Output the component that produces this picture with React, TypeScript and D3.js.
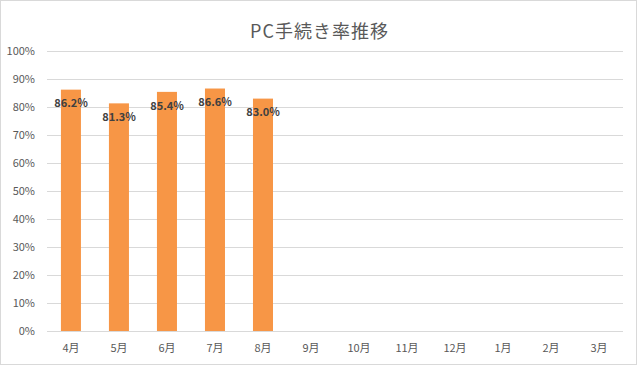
import React from 'react';
import * as d3 from 'd3';

const months = ['4月', '5月', '6月', '7月', '8月', '9月', '10月', '11月', '12月', '1月', '2月', '3月'];
const rates = [86.2, 81.3, 85.4, 86.6, 83.0];
const yTicks = [0, 10, 20, 30, 40, 50, 60, 70, 80, 90, 100];

const W = 637;
const H = 365;
const margin = { top: 51, right: 14, bottom: 34, left: 47 };

export default function App() {
  const width = W - margin.left - margin.right;
  const height = H - margin.top - margin.bottom;

  const x = d3.scaleBand<string>().domain(months).range([0, width]).paddingInner(0.583).paddingOuter(0.29);
  const xc = d3.scaleBand<string>().domain(months).range([0, width]);
  const y = d3.scaleLinear().domain([0, 100]).range([height, 0]);

  const font = '"Noto Sans CJK JP", "Open Sans", sans-serif';

  return (
    <svg width={W} height={H} style={{ position: 'absolute', left: 0, top: 0, background: '#fff' }}>
      <rect x={0.5} y={0.5} width={W - 1} height={H - 1} fill="#fff" stroke="#d9d9d9" />
      <text x={W / 2 + 1} y={38} textAnchor="middle" fontSize={18} letterSpacing={1} fill="#595959" fontFamily={font}>
        PC手続き率推移
      </text>
      <g transform={`translate(${margin.left},${margin.top})`}>
        {yTicks.map(t => (
          <g key={t}>
            <line x1={0} x2={width} y1={Math.round(y(t)) + 0.5} y2={Math.round(y(t)) + 0.5} stroke="#d9d9d9" />
            <text x={-12} y={y(t)} dy="0.35em" textAnchor="end" fontSize={11} fill="#595959" fontFamily={font}>
              {t}%
            </text>
          </g>
        ))}
        {rates.map((v, i) => (
          <rect key={months[i]} x={x(months[i])} y={y(v)} width={x.bandwidth()} height={height - y(v)} fill="#f79646" />
        ))}
        {rates.map((v, i) => (
          <text
            key={'l' + months[i]}
            x={(xc(months[i]) || 0) + xc.bandwidth() / 2}
            y={y(v) + 14}
            dy="0.35em"
            textAnchor="middle"
            fontSize={11}
            fontWeight="bold"
            fill="#404040"
            fontFamily={font}
          >
            {v.toFixed(1)}%
          </text>
        ))}
        {months.map(m => (
          <text
            key={'m' + m}
            x={(xc(m) || 0) + xc.bandwidth() / 2}
            y={height + 17}
            dy="0.35em"
            textAnchor="middle"
            fontSize={11}
            fill="#595959"
            fontFamily={font}
          >
            {m}
          </text>
        ))}
      </g>
    </svg>
  );
}
